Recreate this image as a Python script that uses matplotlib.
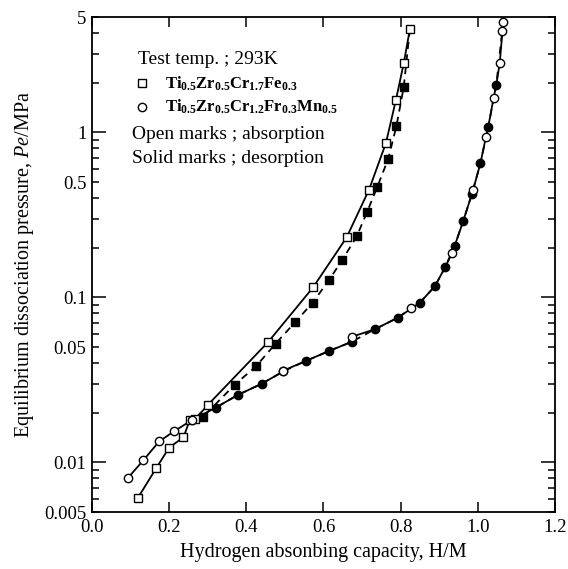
import numpy as np
import matplotlib
matplotlib.use("Agg")
import matplotlib.pyplot as plt
from matplotlib.ticker import FixedLocator, LogLocator, FuncFormatter

# Ti0.5Zr0.5Cr1.7Fe0.3, absorption (open squares)
sq_abs_x = [0.119, 0.166, 0.200, 0.237, 0.254, 0.268, 0.301, 0.457, 0.573,
            0.660, 0.718, 0.762, 0.788, 0.808, 0.824]
sq_abs_p = [0.0061, 0.0092, 0.0123, 0.0142, 0.0182, 0.0184, 0.0224, 0.0538,
            0.115, 0.231, 0.449, 0.863, 1.58, 2.62, 4.22]

# Ti0.5Zr0.5Cr1.7Fe0.3, desorption (solid squares)
sq_des_x = [0.808, 0.789, 0.768, 0.739, 0.713, 0.686, 0.649, 0.614, 0.572,
            0.526, 0.476, 0.425, 0.370, 0.287]
sq_des_p = [1.88, 1.09, 0.693, 0.464, 0.329, 0.234, 0.169, 0.127, 0.093,
            0.0705, 0.0525, 0.0382, 0.0296, 0.0188]

# Ti0.5Zr0.5Cr1.2Fr0.3Mn0.5, absorption (open circles)
ci_abs_x = [0.094, 0.133, 0.174, 0.212, 0.258, 0.496, 0.673, 0.828, 0.933,
            0.988, 1.021, 1.041, 1.057, 1.064, 1.066]
ci_abs_p = [0.0081, 0.0103, 0.0134, 0.0154, 0.0180, 0.0360, 0.0577, 0.0857,
            0.185, 0.449, 0.935, 1.62, 2.64, 4.12, 4.70]

# Ti0.5Zr0.5Cr1.2Fr0.3Mn0.5, desorption (solid circles)
ci_des_x = [1.048, 1.027, 1.007, 0.985, 0.962, 0.940, 0.915, 0.889, 0.850,
            0.792, 0.733, 0.673, 0.615, 0.554, 0.496, 0.440, 0.379, 0.321]
ci_des_p = [1.94, 1.076, 0.653, 0.425, 0.289, 0.205, 0.152, 0.117, 0.0929,
            0.0752, 0.0641, 0.0538, 0.0474, 0.0412, 0.0356, 0.0300, 0.0257, 0.0215]

x_ticks = [0.0, 0.2, 0.4, 0.6, 0.8, 1.0, 1.2]
y_labelled = [0.005, 0.01, 0.05, 0.1, 0.5, 1, 5]

# --- figure ----------------------------------------------------------

plt.rcParams['font.family'] = ['Liberation Serif', 'DejaVu Serif']
plt.rcParams['mathtext.fontset'] = 'custom'
plt.rcParams['mathtext.rm'] = 'Liberation Serif'
plt.rcParams['mathtext.it'] = 'Liberation Serif:italic'
plt.rcParams['mathtext.bf'] = 'Liberation Serif:bold'

fig = plt.figure(figsize=(5.68, 5.69), dpi=100)
ax = fig.add_axes([0.162, 0.100, 0.815, 0.870])

lw = 1.3
ms = 6

# desorption lines start from the top absorption point
ax.plot([sq_abs_x[-1]] + sq_des_x, [sq_abs_p[-1]] + sq_des_p, 'k--', lw=lw, dashes=(4, 3))
ax.plot([ci_abs_x[-1]] + ci_des_x, [ci_abs_p[-1]] + ci_des_p, 'k--', lw=lw, dashes=(4, 3))

# the circle absorption curve runs along all the measured circle points
ci_all = sorted(zip(ci_abs_x + ci_des_x, ci_abs_p + ci_des_p))
ax.plot([a for a, b in ci_all], [b for a, b in ci_all], 'k-', lw=lw)
ax.plot(sq_abs_x, sq_abs_p, 'k-', lw=lw)

ax.plot(sq_des_x, sq_des_p, 's', color='k', ms=ms, mec='k')
ax.plot(ci_des_x, ci_des_p, 'o', color='k', ms=ms, mec='k')

ax.plot(sq_abs_x, sq_abs_p, 's', ms=ms, mfc='white', mec='k', mew=1.0)
ax.plot(ci_abs_x, ci_abs_p, 'o', ms=ms, mfc='white', mec='k', mew=1.0)

ax.set_yscale('log')
ax.set_xlim(0.0, 1.2)
ax.set_ylim(0.005, 5)

ax.xaxis.set_major_locator(FixedLocator(x_ticks))
ax.set_xticklabels(['%.1f' % v for v in x_ticks])

ax.yaxis.set_major_locator(LogLocator(base=10, subs=(1.0,)))
ax.yaxis.set_minor_locator(LogLocator(base=10, subs=np.arange(2, 10)))


def fmt(v, pos):
    for t in y_labelled:
        if abs(v - t) / t < 1e-6:
            return ('%g' % t)
    return ''


ax.yaxis.set_major_formatter(FuncFormatter(fmt))
ax.yaxis.set_minor_formatter(FuncFormatter(fmt))

ax.tick_params(axis='both', which='both', direction='in', top=True, right=True,
               labelsize=13.5, width=1.1)
ax.tick_params(axis='x', which='major', length=7, pad=5)
ax.tick_params(axis='y', which='major', length=10, pad=4)
ax.tick_params(axis='y', which='minor', length=5, pad=4)
for s in ax.spines.values():
    s.set_linewidth(1.3)

ax.set_xlabel('Hydrogen absonbing capacity, H/M', fontsize=14.5, labelpad=5)
ax.set_ylabel('Equilibrium dissociation pressure, $\\it{Pe}$/MPa', fontsize=14.5, labelpad=6)

# --- legend block -----------------------------------------------------
txt = 14
ax.text(0.10, 0.915, 'Test temp. ; 293K', transform=ax.transAxes, fontsize=txt,
        va='center', ha='left')
ax.plot([0.108], [0.866], 's', transform=ax.transAxes, ms=ms, mfc='white', mec='k', mew=1.0)
ax.text(0.158, 0.866, r'$\mathbf{Ti_{0.5}Zr_{0.5}Cr_{1.7}Fe_{0.3}}$', transform=ax.transAxes,
        fontsize=12, va='center', ha='left')
ax.plot([0.108], [0.818], 'o', transform=ax.transAxes, ms=ms, mfc='white', mec='k', mew=1.0)
ax.text(0.158, 0.818, r'$\mathbf{Ti_{0.5}Zr_{0.5}Cr_{1.2}Fr_{0.3}Mn_{0.5}}$', transform=ax.transAxes,
        fontsize=12, va='center', ha='left')
ax.text(0.087, 0.763, 'Open marks ; absorption', transform=ax.transAxes, fontsize=txt,
        va='center', ha='left')
ax.text(0.087, 0.714, 'Solid marks ; desorption', transform=ax.transAxes, fontsize=txt,
        va='center', ha='left')

fig.savefig('out.png', dpi=100)
